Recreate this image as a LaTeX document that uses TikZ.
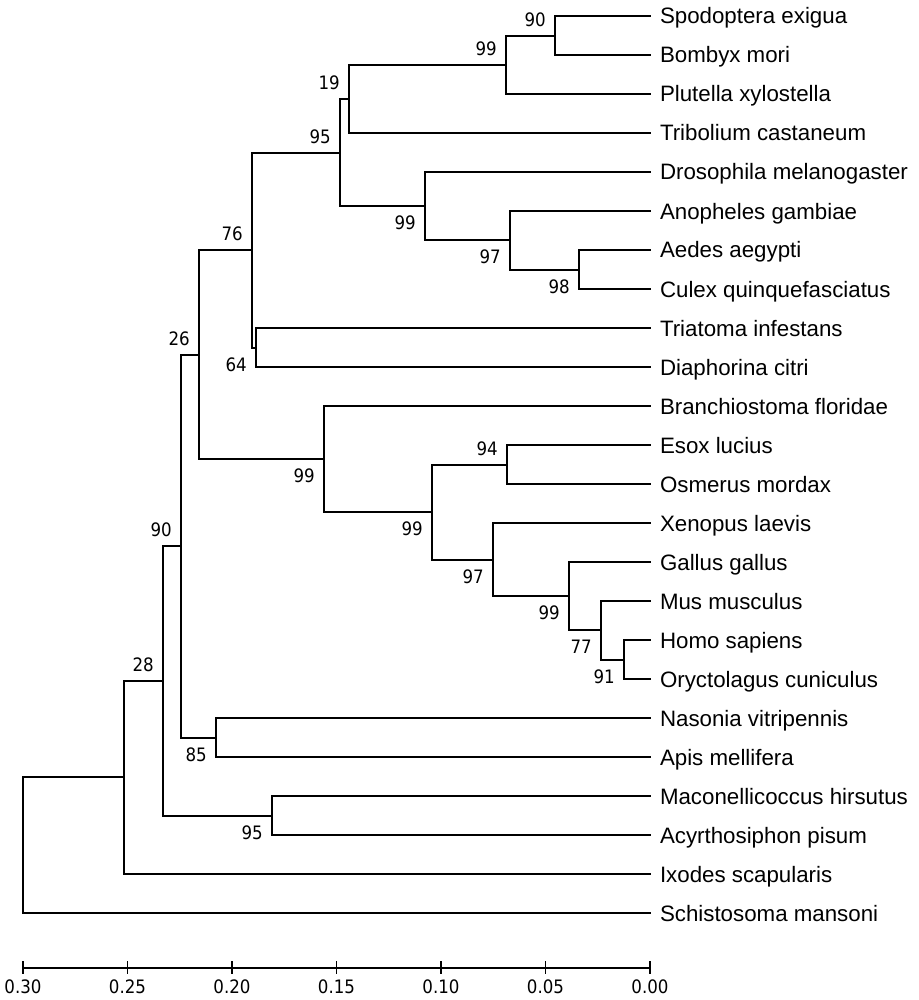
\documentclass[tikz,border=0pt]{standalone}
\usepackage{fontspec}
\usetikzlibrary{calc}
\newfontfamily\taxfont{Liberation Sans}
\newfontfamily\bsfont[FakeStretch=0.9]{DejaVu Sans}
\begin{document}
\begin{tikzpicture}[x=1pt,y=-1pt,
  branch/.style={line width=1.9pt,line cap=rect},
  taxon/.style={anchor=west,inner xsep=10pt,inner ysep=0pt,outer sep=0pt,text height=16pt,text depth=0pt,font=\taxfont\fontsize{22.3pt}{24pt}\selectfont},
  bsup/.style={anchor=south east,inner sep=0pt,xshift=-9pt,yshift=9pt,font=\bsfont\fontsize{18.5pt}{20pt}\selectfont},
  bsdn/.style={anchor=north east,inner sep=0pt,xshift=-9pt,yshift=-10pt,font=\bsfont\fontsize{18.5pt}{20pt}\selectfont},
  axlab/.style={anchor=north,inner sep=0pt,font=\bsfont\fontsize{18.5pt}{20pt}\selectfont}]
\useasboundingbox (0,0) rectangle (918,1000);
% leaves
\node[taxon] (l0) at (650,16) {Spodoptera exigua};
\node[taxon] (l1) at (650,55) {Bombyx mori};
\node[taxon] (l2) at (650,94) {Plutella xylostella};
\node[taxon] (l3) at (650,133) {Tribolium castaneum};
\node[taxon] (l4) at (650,172) {Drosophila melanogaster};
\node[taxon] (l5) at (650,211) {Anopheles gambiae};
\node[taxon] (l6) at (650,250) {Aedes aegypti};
\node[taxon] (l7) at (650,289) {Culex quinquefasciatus};
\node[taxon] (l8) at (650,328) {Triatoma infestans};
\node[taxon] (l9) at (650,367) {Diaphorina citri};
\node[taxon] (l10) at (650,406) {Branchiostoma floridae};
\node[taxon] (l11) at (650,445) {Esox lucius};
\node[taxon] (l12) at (650,484) {Osmerus mordax};
\node[taxon] (l13) at (650,523) {Xenopus laevis};
\node[taxon] (l14) at (650,562) {Gallus gallus};
\node[taxon] (l15) at (650,601) {Mus musculus};
\node[taxon] (l16) at (650,640) {Homo sapiens};
\node[taxon] (l17) at (650,679) {Oryctolagus cuniculus};
\node[taxon] (l18) at (650,718) {Nasonia vitripennis};
\node[taxon] (l19) at (650,757) {Apis mellifera};
\node[taxon] (l20) at (650,796) {Maconellicoccus hirsutus};
\node[taxon] (l21) at (650,835) {Acyrthosiphon pisum};
\node[taxon] (l22) at (650,874) {Ixodes scapularis};
\node[taxon] (l23) at (650,913) {Schistosoma mansoni};
% internal nodes
\coordinate (n90b) at (555,36);
\coordinate (n99a) at (506,65);
\coordinate (n19) at (349,99);
\coordinate (n98) at (579,270);
\coordinate (n97a) at (510,240);
\coordinate (n99b) at (425,206);
\coordinate (n95) at (340,153);
\coordinate (n64) at (256,348);
\coordinate (n76) at (252,250);
\coordinate (n91) at (624,660);
\coordinate (n77) at (601,630);
\coordinate (n99e) at (569,596);
\coordinate (n97b) at (493,560);
\coordinate (n94) at (507,465);
\coordinate (n99d) at (432,512);
\coordinate (n99c) at (324,459);
\coordinate (n26) at (199,355);
\coordinate (n85) at (216,738);
\coordinate (n90) at (181,546);
\coordinate (n95b) at (272,816);
\coordinate (n28) at (163,681);
\coordinate (nA) at (124,777);
\coordinate (nR) at (23,845);
% branches
\newcommand\cladeline[3]{\draw[branch] (#2) -| (#1) |- (#3);}
\cladeline{n90b}{l0.west}{l1.west}
\cladeline{n99a}{n90b}{l2.west}
\cladeline{n19}{n99a}{l3.west}
\cladeline{n98}{l6.west}{l7.west}
\cladeline{n97a}{l5.west}{n98}
\cladeline{n99b}{l4.west}{n97a}
\cladeline{n95}{n19}{n99b}
\cladeline{n64}{l8.west}{l9.west}
\cladeline{n76}{n95}{n64}
\cladeline{n91}{l16.west}{l17.west}
\cladeline{n77}{l15.west}{n91}
\cladeline{n99e}{l14.west}{n77}
\cladeline{n97b}{l13.west}{n99e}
\cladeline{n94}{l11.west}{l12.west}
\cladeline{n99d}{n94}{n97b}
\cladeline{n99c}{l10.west}{n99d}
\cladeline{n26}{n76}{n99c}
\cladeline{n85}{l18.west}{l19.west}
\cladeline{n90}{n26}{n85}
\cladeline{n95b}{l20.west}{l21.west}
\cladeline{n28}{n90}{n95b}
\cladeline{nA}{n28}{l22.west}
\cladeline{nR}{nA}{l23.west}
% bootstrap values
\node[bsup] (b90b) at (n90b) {90};
\node[bsup] (b99a) at (n99a) {99};
\node[bsup] (b19) at (n19) {19};
\node[bsup] (b95) at (n95) {95};
\node[bsup] (b76) at (n76) {76};
\node[bsup] (b26) at (n26) {26};
\node[bsup] (b94) at (n94) {94};
\node[bsup] (b90) at (n90) {90};
\node[bsup] (b28) at (n28) {28};
\node[bsdn] (b99b) at (n99b) {99};
\node[bsdn] (b97a) at (n97a) {97};
\node[bsdn] (b98) at (n98) {98};
\node[bsdn] (b64) at (n64) {64};
\node[bsdn] (b99c) at (n99c) {99};
\node[bsdn] (b99d) at (n99d) {99};
\node[bsdn] (b97b) at (n97b) {97};
\node[bsdn] (b99e) at (n99e) {99};
\node[bsdn] (b77) at (n77) {77};
\node[bsdn] (b91) at (n91) {91};
\node[bsdn] (b85) at (n85) {85};
\node[bsdn] (b95b) at (n95b) {95};
% scale axis
\coordinate (axL) at (23,968);
\coordinate (axR) at (650,968);
\draw[branch,line cap=butt] (axL) -- (axR);
\foreach \i/\lab in {0/0.30,1/0.25,2/0.20,3/0.15,4/0.10,5/0.05,6/0.00}{
  \draw[line width=1.9pt] ($(axL)!\i/6!(axR)+(0,-7)$) -- ($(axL)!\i/6!(axR)+(0,6)$);
  \node[axlab] (ax\i) at ($(axL)!\i/6!(axR)+(0,11.5)$) {\lab};
}
\end{tikzpicture}
\end{document}
